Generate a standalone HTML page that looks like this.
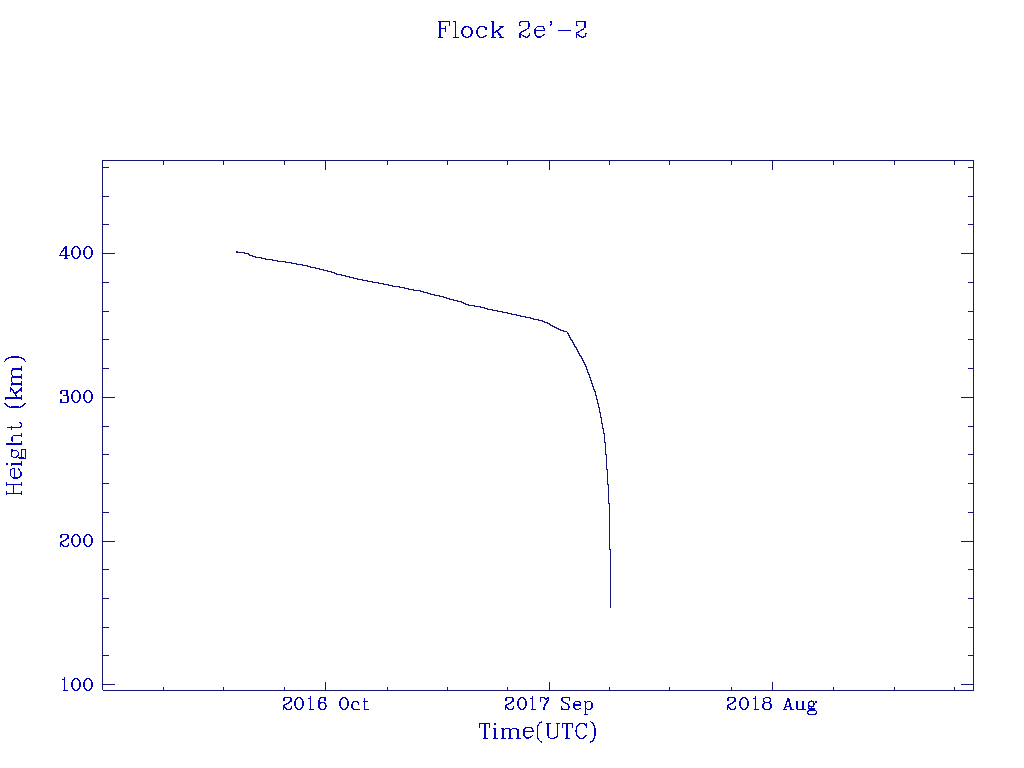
<!DOCTYPE html>
<html lang="en"><head><meta charset="utf-8"><title>Flock 2e'-2 Height (km) vs Time(UTC)</title><style>
html,body{margin:0;padding:0;background:#fff;width:1024px;height:768px;overflow:hidden}
svg{display:block}
.tl text{font-family:"Liberation Serif",serif;fill:transparent;stroke:none}
</style></head><body>
<svg width="1024" height="768" viewBox="0 0 1024 768">
<rect width="1024" height="768" fill="#fff"/>
<path d="M102.5 160V690M102 160.5H974M973.5 160V691M103 690.5H974M102 253.5H115M961 253.5H974M102 397.5H115M961 397.5H974M102 541.5H115M961 541.5H974M102 684.5H115M961 684.5H974M102 167.5H109M968 167.5H974M102 196.5H109M968 196.5H974M102 224.5H109M968 224.5H974M102 282.5H109M968 282.5H974M102 311.5H109M968 311.5H974M102 339.5H109M968 339.5H974M102 368.5H109M968 368.5H974M102 426.5H109M968 426.5H974M102 454.5H109M968 454.5H974M102 483.5H109M968 483.5H974M102 512.5H109M968 512.5H974M102 569.5H109M968 569.5H974M102 598.5H109M968 598.5H974M102 627.5H109M968 627.5H974M102 655.5H109M968 655.5H974M325.5 682V691M325.5 160V170M549.5 682V691M549.5 160V170M772.5 682V691M772.5 160V170M163.5 687V691M163.5 160V165M223.5 687V691M223.5 160V165M284.5 687V691M284.5 160V165M387.5 687V691M387.5 160V165M447.5 687V691M447.5 160V165M507.5 687V691M507.5 160V165M609.5 687V691M609.5 160V165M669.5 687V691M669.5 160V165M731.5 687V691M731.5 160V165M833.5 687V691M833.5 160V165M894.5 687V691M894.5 160V165M954.5 687V691M954.5 160V165" stroke="#151576" stroke-width="1" fill="none" shape-rendering="crispEdges"/>
<path d="M236 251h2v2h-2zM236 252h9v1h-9zM244 253h5v1h-5zM248 254h2v1h-2zM249 255h4v1h-4zM252 256h4v1h-4zM255 257h7v1h-7zM261 258h5v1h-5zM265 259h8v1h-8zM272 260h6v1h-6zM277 261h9v1h-9zM285 262h7v1h-7zM291 263h6v1h-6zM296 264h7v1h-7zM302 265h6v1h-6zM307 266h4v1h-4zM310 267h6v1h-6zM315 268h5v1h-5zM319 269h5v1h-5zM323 270h5v1h-5zM327 271h5v1h-5zM331 272h4v1h-4zM334 273h3v1h-3zM336 274h6v1h-6zM341 275h5v1h-5zM345 276h5v1h-5zM349 277h5v1h-5zM353 278h5v1h-5zM357 279h6v1h-6zM362 280h6v1h-6zM367 281h6v1h-6zM372 282h7v1h-7zM378 283h6v1h-6zM383 284h6v1h-6zM388 285h5v1h-5zM392 286h8v1h-8zM399 287h6v1h-6zM404 288h5v1h-5zM408 289h6v1h-6zM413 290h8v1h-8zM420 291h4v1h-4zM423 292h5v1h-5zM427 293h4v1h-4zM430 294h5v1h-5zM434 295h6v1h-6zM439 296h5v1h-5zM443 297h4v1h-4zM446 298h4v1h-4zM449 299h5v1h-5zM453 300h5v1h-5zM457 301h5v1h-5zM461 302h3v1h-3zM463 303h3v1h-3zM465 304h4v1h-4zM468 305h7v1h-7zM474 306h7v1h-7zM480 307h5v1h-5zM484 308h4v1h-4zM487 309h6v1h-6zM492 310h6v1h-6zM497 311h6v1h-6zM502 312h6v1h-6zM507 313h5v1h-5zM511 314h6v1h-6zM516 315h5v1h-5zM520 316h6v1h-6zM525 317h6v1h-6zM530 318h4v1h-4zM533 319h6v1h-6zM538 320h5v1h-5zM542 321h3v1h-3zM544 322h4v1h-4zM547 323h3v1h-3zM549 324h2v1h-2zM550 325h3v1h-3zM552 326h3v1h-3zM554 327h3v1h-3zM556 328h3v1h-3zM558 329h3v1h-3zM560 330h4v1h-4zM563 331h4v1h-4zM598 404h1v4h-1zM599 407h1v6h-1zM600 412h1v6h-1zM601 417h1v7h-1zM602 423h1v6h-1zM603 428h1v6h-1zM604 433h1v10h-1zM605 442h1v13h-1zM606 454h1v16h-1zM607 469h1v16h-1zM608 484h1v20h-1zM609 503h1v47h-1zM610 549h1v59h-1zM567 332h1v1h-1zM567 333h1v1h-1zM568 333h1v1h-1zM568 334h1v1h-1zM568 335h1v1h-1zM569 335h1v1h-1zM569 336h1v1h-1zM569 337h1v1h-1zM570 337h1v1h-1zM570 338h1v1h-1zM570 339h1v1h-1zM571 339h1v1h-1zM571 340h1v1h-1zM572 340h1v1h-1zM572 341h1v1h-1zM572 342h1v1h-1zM573 342h1v1h-1zM573 343h1v1h-1zM573 344h1v1h-1zM574 344h1v1h-1zM574 345h1v1h-1zM574 346h1v1h-1zM575 346h1v1h-1zM575 347h1v1h-1zM576 347h1v1h-1zM576 348h1v1h-1zM576 349h1v1h-1zM577 349h1v1h-1zM577 350h1v1h-1zM577 351h1v1h-1zM578 351h1v1h-1zM578 352h1v1h-1zM578 353h1v1h-1zM579 353h1v1h-1zM579 354h1v1h-1zM579 355h1v1h-1zM580 355h1v1h-1zM580 356h1v1h-1zM581 356h1v1h-1zM581 357h1v1h-1zM581 358h1v1h-1zM582 358h1v1h-1zM582 359h1v1h-1zM582 360h1v1h-1zM583 360h1v1h-1zM583 361h1v1h-1zM583 362h1v1h-1zM584 362h1v1h-1zM584 363h1v1h-1zM584 364h1v1h-1zM585 364h1v1h-1zM585 365h1v1h-1zM585 366h1v1h-1zM586 366h1v1h-1zM586 367h1v1h-1zM586 368h1v1h-1zM586 369h1v1h-1zM587 369h1v1h-1zM587 370h1v1h-1zM587 371h1v1h-1zM587 372h1v1h-1zM588 372h1v1h-1zM588 373h1v1h-1zM588 374h1v1h-1zM589 374h1v1h-1zM589 375h1v1h-1zM589 376h1v1h-1zM589 377h1v1h-1zM590 377h1v1h-1zM590 378h1v1h-1zM590 379h1v1h-1zM590 380h1v1h-1zM591 380h1v1h-1zM591 381h1v1h-1zM591 382h1v1h-1zM591 383h1v1h-1zM592 383h1v1h-1zM592 384h1v1h-1zM592 385h1v1h-1zM592 386h1v1h-1zM593 386h1v1h-1zM593 387h1v1h-1zM593 388h1v1h-1zM593 389h1v1h-1zM594 389h1v1h-1zM594 390h1v1h-1zM594 391h1v1h-1zM595 391h1v1h-1zM595 392h1v1h-1zM595 393h1v1h-1zM595 394h1v1h-1zM595 395h1v1h-1zM596 395h1v1h-1zM596 396h1v1h-1zM596 397h1v1h-1zM596 398h1v1h-1zM596 399h1v1h-1zM597 399h1v1h-1zM597 400h1v1h-1zM597 401h1v1h-1zM597 402h1v1h-1zM597 403h1v1h-1zM598 403h1v1h-1zM598 404h1v1h-1z" fill="#151576" shape-rendering="crispEdges"/>
<g fill="none" stroke="#0000be" stroke-linecap="butt" stroke-linejoin="round" shape-rendering="crispEdges" aria-hidden="true">
<path transform="translate(438,38)" d="M0,-16.5H12" stroke-width="1.1"/>
<path transform="translate(438,38)" d="M2,-17V0" stroke-width="2.0"/>
<path transform="translate(438,38)" d="M11.5,-17V-12" stroke-width="1.1"/>
<path transform="translate(438,38)" d="M3,-9.5H8" stroke-width="1.1"/>
<path transform="translate(438,38)" d="M7.5,-12V-6" stroke-width="1.1"/>
<path transform="translate(438,38)" d="M0,-0.5H5" stroke-width="1.1"/>
<path transform="translate(453,38)" d="M0,-16.5H3" stroke-width="1.1"/>
<path transform="translate(453,38)" d="M2.3,-17V0" stroke-width="1.5"/>
<path transform="translate(453,38)" d="M0,-0.5H6" stroke-width="1.1"/>
<path transform="translate(461,38)" d="M0.7000000000000002,-6A5.3,5.5 0 1,0 11.3,-6A5.3,5.5 0 1,0 0.7000000000000002,-6Z" stroke-width="1.2"/>
<path transform="translate(461,38)" d="M1.5999999999999996,-6A4.4,5.3 0 1,0 10.4,-6A4.4,5.3 0 1,0 1.5999999999999996,-6Z" stroke-width="1.0"/>
<path transform="translate(476,38)" d="M10,-10C9,-11.3 7.5,-11.8 6,-11.8C2.8,-11.8 0.8,-9 0.8,-6C0.8,-2.8 3,-0.5 6,-0.5C7.8,-0.5 9.3,-1.4 10.3,-3" stroke-width="1.2"/>
<path transform="translate(476,38)" d="M1.7,-8.5V-3.5" stroke-width="1.0"/>
<path transform="translate(476,38)" d="M9.6,-11V-8.5" stroke-width="2.0"/>
<path transform="translate(491,38)" d="M2,-17V0" stroke-width="2.0"/>
<path transform="translate(491,38)" d="M0,-16.5H3" stroke-width="1.1"/>
<path transform="translate(491,38)" d="M0,-0.5H5" stroke-width="1.1"/>
<path transform="translate(491,38)" d="M12,-11.5L3,-5" stroke-width="1.4"/>
<path transform="translate(491,38)" d="M8,-11.5H13" stroke-width="1.1"/>
<path transform="translate(491,38)" d="M5.5,-7.5L10.5,-0.7" stroke-width="1.8"/>
<path transform="translate(491,38)" d="M8,-0.5H13" stroke-width="1.1"/>
<path transform="translate(519,38)" d="M0.7,-12.5V-14.5C0.7,-15.8 1.4,-16.5 2.7,-16.5H8.5C9.5,-16.5 10,-15.8 10,-15V-11C10,-10.2 9.6,-9.9 9,-9.5L1,-5V-0.5M1,-4C3,-4 4,-0.8 7,-0.8C9,-0.8 10.5,-2 10.5,-4.8" stroke-width="1.2"/>
<path transform="translate(519,38)" d="M9.2,-16V-10.5" stroke-width="1.0"/>
<path transform="translate(519,38)" d="M1.2,-13V-12" stroke-width="1.6"/>
<path transform="translate(534,38)" d="M1,-7.5H10.5V-9L9,-11.5H3.5L1,-9V-4L3.5,-1H6.5L10.5,-3.7" stroke-width="1.2"/>
<path transform="translate(534,38)" d="M1.6,-9V-4" stroke-width="1.0"/>
<path transform="translate(549,38)" d="M1,-16.2H2.6V-14.2L0.8,-12.5" stroke-width="1.6"/>
<path transform="translate(558,38)" d="M0,-7.5H13" stroke-width="1.1"/>
<path transform="translate(575.5,38)" d="M0.7,-12.5V-14.5C0.7,-15.8 1.4,-16.5 2.7,-16.5H8.5C9.5,-16.5 10,-15.8 10,-15V-11C10,-10.2 9.6,-9.9 9,-9.5L1,-5V-0.5M1,-4C3,-4 4,-0.8 7,-0.8C9,-0.8 10.5,-2 10.5,-4.8" stroke-width="1.2"/>
<path transform="translate(575.5,38)" d="M9.2,-16V-10.5" stroke-width="1.0"/>
<path transform="translate(575.5,38)" d="M1.2,-13V-12" stroke-width="1.6"/>
<path transform="translate(479,739)" d="M0,-15.5H11" stroke-width="1.1"/>
<path transform="translate(479,739)" d="M0.5,-16V-11" stroke-width="1.1"/>
<path transform="translate(479,739)" d="M10.5,-16V-11" stroke-width="1.1"/>
<path transform="translate(479,739)" d="M6,-16V0" stroke-width="2.0"/>
<path transform="translate(479,739)" d="M4,-0.5H9" stroke-width="1.1"/>
<path transform="translate(493,739)" d="M1,-15H3" stroke-width="2.0"/>
<path transform="translate(493,739)" d="M2,-11V0" stroke-width="2.0"/>
<path transform="translate(493,739)" d="M0,-10.5H3" stroke-width="1.1"/>
<path transform="translate(493,739)" d="M0,-0.5H5" stroke-width="1.1"/>
<path transform="translate(501,739)" d="M2,-11V0" stroke-width="2.0"/>
<path transform="translate(501,739)" d="M0,-10.5H3" stroke-width="1.1"/>
<path transform="translate(501,739)" d="M3,-9L4.5,-10.5H8L9,-9.5" stroke-width="1.1"/>
<path transform="translate(501,739)" d="M9,-10V0" stroke-width="2.0"/>
<path transform="translate(501,739)" d="M10,-9L11.5,-10.5H15L16,-9.5" stroke-width="1.1"/>
<path transform="translate(501,739)" d="M17,-10V0" stroke-width="2.0"/>
<path transform="translate(501,739)" d="M0,-0.5H5" stroke-width="1.1"/>
<path transform="translate(501,739)" d="M7,-0.5H12" stroke-width="1.1"/>
<path transform="translate(501,739)" d="M15,-0.5H20" stroke-width="1.1"/>
<path transform="translate(522.5,739)" d="M1,-7.5H10.5V-9L9,-11.5H3.5L1,-9V-4L3.5,-1H6.5L10.5,-3.7" stroke-width="1.2"/>
<path transform="translate(522.5,739)" d="M1.6,-9V-4" stroke-width="1.0"/>
<path transform="translate(536.3,739)" d="M5.8,-17.5C3,-16 1,-13.5 1,-10V-4C1,-0.5 3,2 5.8,3.5" stroke-width="1.3"/>
<path transform="translate(536.3,739)" d="M1.6,-11V-3" stroke-width="1.0"/>
<path transform="translate(546,739)" d="M0,-15.5H5" stroke-width="1.1"/>
<path transform="translate(546,739)" d="M2,-16V-4" stroke-width="2.0"/>
<path transform="translate(546,739)" d="M2,-4C2,-1.5 4,-0.5 6.5,-0.5C9,-0.5 11.5,-2 11.5,-4" stroke-width="1.2"/>
<path transform="translate(546,739)" d="M11.5,-16V-4" stroke-width="1.2"/>
<path transform="translate(546,739)" d="M10,-15.5H14" stroke-width="1.1"/>
<path transform="translate(562,739)" d="M0,-15.5H11" stroke-width="1.1"/>
<path transform="translate(562,739)" d="M0.5,-16V-11" stroke-width="1.1"/>
<path transform="translate(562,739)" d="M10.5,-16V-11" stroke-width="1.1"/>
<path transform="translate(562,739)" d="M5,-16V0" stroke-width="2.0"/>
<path transform="translate(562,739)" d="M3,-0.5H8" stroke-width="1.1"/>
<path transform="translate(575,739)" d="M11.3,-13.3C10,-15 8.5,-15.5 6.8,-15.5C3,-15.5 1,-12 1,-8C1,-4 3,-0.5 6.5,-0.5C8.5,-0.5 10.3,-1.7 11.5,-4" stroke-width="1.2"/>
<path transform="translate(575,739)" d="M1.9,-11V-5" stroke-width="1.0"/>
<path transform="translate(575,739)" d="M11.5,-16V-11.5" stroke-width="1.5"/>
<path transform="translate(590,739)" d="M0.2,-17.5C3,-16 5,-13.5 5,-10V-4C5,-0.5 3,2 0.2,3.5" stroke-width="1.3"/>
<path transform="translate(590,739)" d="M4.4,-11V-3" stroke-width="1.0"/>
<path transform="translate(22,495) rotate(-90)" d="M1.5,-16V0" stroke-width="1.4"/>
<path transform="translate(22,495) rotate(-90)" d="M10.5,-16V0" stroke-width="1.4"/>
<path transform="translate(22,495) rotate(-90)" d="M1.5,-8.5H10.5" stroke-width="1.1"/>
<path transform="translate(22,495) rotate(-90)" d="M0,-15.5H4" stroke-width="1.1"/>
<path transform="translate(22,495) rotate(-90)" d="M9,-15.5H13" stroke-width="1.1"/>
<path transform="translate(22,495) rotate(-90)" d="M0,-0.5H4" stroke-width="1.1"/>
<path transform="translate(22,495) rotate(-90)" d="M9,-0.5H13" stroke-width="1.1"/>
<path transform="translate(22,479) rotate(-90)" d="M1,-7.5H10.5V-9L9,-11.5H3.5L1,-9V-4L3.5,-1H6.5L10.5,-3.7" stroke-width="1.2"/>
<path transform="translate(22,479) rotate(-90)" d="M1.6,-9V-4" stroke-width="1.0"/>
<path transform="translate(22,466) rotate(-90)" d="M1,-15H3" stroke-width="2.0"/>
<path transform="translate(22,466) rotate(-90)" d="M2,-11V0" stroke-width="2.0"/>
<path transform="translate(22,466) rotate(-90)" d="M0,-10.5H3" stroke-width="1.1"/>
<path transform="translate(22,466) rotate(-90)" d="M0,-0.5H5" stroke-width="1.1"/>
<path transform="translate(22,459) rotate(-90)" d="M1.4,-7.2A3.6,3.7 0 1,0 8.6,-7.2A3.6,3.7 0 1,0 1.4,-7.2Z" stroke-width="1.2"/>
<path transform="translate(22,459) rotate(-90)" d="M9.3,-10.6V-9.4" stroke-width="1.6"/>
<path transform="translate(22,459) rotate(-90)" d="M1.8,-3.8L1,-2.5V-1" stroke-width="1.2"/>
<path transform="translate(22,459) rotate(-90)" d="M0.8,-0.5H9.8V3.5H0.8Z" stroke-width="1.1"/>
<path transform="translate(22,459) rotate(-90)" d="M1.3,-0.5V1.5" stroke-width="1.0"/>
<path transform="translate(22,445) rotate(-90)" d="M1.5,-16V0" stroke-width="2.0"/>
<path transform="translate(22,445) rotate(-90)" d="M0,-15.5H2.5" stroke-width="1.1"/>
<path transform="translate(22,445) rotate(-90)" d="M2.5,-8.5L4,-10H8L9.5,-8.5" stroke-width="1.1"/>
<path transform="translate(22,445) rotate(-90)" d="M9.5,-9V0" stroke-width="1.3"/>
<path transform="translate(22,445) rotate(-90)" d="M0,-0.5H4" stroke-width="1.1"/>
<path transform="translate(22,445) rotate(-90)" d="M8,-0.5H12" stroke-width="1.1"/>
<path transform="translate(22,430.5) rotate(-90)" d="M3,-15V-3C3,-1 4,-0.5 5.5,-0.5C7,-0.5 8,-1.5 8.5,-2.5" stroke-width="1.3"/>
<path transform="translate(22,430.5) rotate(-90)" d="M0.5,-10.5H5" stroke-width="1.1"/>
<path transform="translate(22,408.5) rotate(-90)" d="M5.8,-17.5C3,-16 1,-13.5 1,-10V-4C1,-0.5 3,2 5.8,3.5" stroke-width="1.3"/>
<path transform="translate(22,408.5) rotate(-90)" d="M1.6,-11V-3" stroke-width="1.0"/>
<path transform="translate(22,399.5) rotate(-90)" d="M2,-17V0" stroke-width="2.0"/>
<path transform="translate(22,399.5) rotate(-90)" d="M0,-16.5H3" stroke-width="1.1"/>
<path transform="translate(22,399.5) rotate(-90)" d="M0,-0.5H5" stroke-width="1.1"/>
<path transform="translate(22,399.5) rotate(-90)" d="M12,-11.5L3,-5" stroke-width="1.4"/>
<path transform="translate(22,399.5) rotate(-90)" d="M8,-11.5H13" stroke-width="1.1"/>
<path transform="translate(22,399.5) rotate(-90)" d="M5.5,-7.5L10.5,-0.7" stroke-width="1.8"/>
<path transform="translate(22,399.5) rotate(-90)" d="M8,-0.5H13" stroke-width="1.1"/>
<path transform="translate(22,386) rotate(-90)" d="M2,-11V0" stroke-width="2.0"/>
<path transform="translate(22,386) rotate(-90)" d="M0,-10.5H3" stroke-width="1.1"/>
<path transform="translate(22,386) rotate(-90)" d="M3,-9L4.5,-10.5H8L9,-9.5" stroke-width="1.1"/>
<path transform="translate(22,386) rotate(-90)" d="M9,-10V0" stroke-width="2.0"/>
<path transform="translate(22,386) rotate(-90)" d="M10,-9L11.5,-10.5H15L16,-9.5" stroke-width="1.1"/>
<path transform="translate(22,386) rotate(-90)" d="M17,-10V0" stroke-width="2.0"/>
<path transform="translate(22,386) rotate(-90)" d="M0,-0.5H5" stroke-width="1.1"/>
<path transform="translate(22,386) rotate(-90)" d="M7,-0.5H12" stroke-width="1.1"/>
<path transform="translate(22,386) rotate(-90)" d="M15,-0.5H20" stroke-width="1.1"/>
<path transform="translate(22,362) rotate(-90)" d="M0.2,-17.5C3,-16 5,-13.5 5,-10V-4C5,-0.5 3,2 0.2,3.5" stroke-width="1.3"/>
<path transform="translate(22,362) rotate(-90)" d="M4.4,-11V-3" stroke-width="1.0"/>
<path transform="translate(59,259)" d="M7,-13V0" stroke-width="2.0"/>
<path transform="translate(59,259)" d="M6.5,-12.5L1,-4.5" stroke-width="1.3"/>
<path transform="translate(59,259)" d="M0,-3.5H11" stroke-width="1.1"/>
<path transform="translate(59,259)" d="M5,-0.5H9" stroke-width="1.1"/>
<path transform="translate(71,259)" d="M0.7999999999999998,-6.5A4.2,6.0 0 1,0 9.2,-6.5A4.2,6.0 0 1,0 0.7999999999999998,-6.5Z" stroke-width="1.2"/>
<path transform="translate(71,259)" d="M1.4,-9V-4" stroke-width="1.0"/>
<path transform="translate(71,259)" d="M8.6,-9V-4" stroke-width="1.0"/>
<path transform="translate(83,259)" d="M0.7999999999999998,-6.5A4.2,6.0 0 1,0 9.2,-6.5A4.2,6.0 0 1,0 0.7999999999999998,-6.5Z" stroke-width="1.2"/>
<path transform="translate(83,259)" d="M1.4,-9V-4" stroke-width="1.0"/>
<path transform="translate(83,259)" d="M8.6,-9V-4" stroke-width="1.0"/>
<path transform="translate(60,403)" d="M1,-12.5H7.5" stroke-width="1.1"/>
<path transform="translate(60,403)" d="M1,-12V-9.5" stroke-width="1.6"/>
<path transform="translate(60,403)" d="M7,-12V-8" stroke-width="1.6"/>
<path transform="translate(60,403)" d="M3,-7.5H7.5" stroke-width="1.1"/>
<path transform="translate(60,403)" d="M8,-7V-1.5" stroke-width="1.6"/>
<path transform="translate(60,403)" d="M1,-0.5H7.5" stroke-width="1.1"/>
<path transform="translate(60,403)" d="M1,-4V-0.5" stroke-width="1.6"/>
<path transform="translate(71,403)" d="M0.7999999999999998,-6.5A4.2,6.0 0 1,0 9.2,-6.5A4.2,6.0 0 1,0 0.7999999999999998,-6.5Z" stroke-width="1.2"/>
<path transform="translate(71,403)" d="M1.4,-9V-4" stroke-width="1.0"/>
<path transform="translate(71,403)" d="M8.6,-9V-4" stroke-width="1.0"/>
<path transform="translate(83,403)" d="M0.7999999999999998,-6.5A4.2,6.0 0 1,0 9.2,-6.5A4.2,6.0 0 1,0 0.7999999999999998,-6.5Z" stroke-width="1.2"/>
<path transform="translate(83,403)" d="M1.4,-9V-4" stroke-width="1.0"/>
<path transform="translate(83,403)" d="M8.6,-9V-4" stroke-width="1.0"/>
<path transform="translate(60,547)" d="M1,-12V-9.5" stroke-width="1.6"/>
<path transform="translate(60,547)" d="M1,-12.5H7.5" stroke-width="1.1"/>
<path transform="translate(60,547)" d="M8,-12V-8" stroke-width="1.6"/>
<path transform="translate(60,547)" d="M7,-8L1,-4.5" stroke-width="1.4"/>
<path transform="translate(60,547)" d="M0.7,-5V0" stroke-width="1.2"/>
<path transform="translate(60,547)" d="M1,-3.3C2.5,-3.3 3,-0.5 5,-0.5H7C8,-0.5 8.5,-1.5 8.5,-4" stroke-width="1.3"/>
<path transform="translate(71,547)" d="M0.7999999999999998,-6.5A4.2,6.0 0 1,0 9.2,-6.5A4.2,6.0 0 1,0 0.7999999999999998,-6.5Z" stroke-width="1.2"/>
<path transform="translate(71,547)" d="M1.4,-9V-4" stroke-width="1.0"/>
<path transform="translate(71,547)" d="M8.6,-9V-4" stroke-width="1.0"/>
<path transform="translate(83,547)" d="M0.7999999999999998,-6.5A4.2,6.0 0 1,0 9.2,-6.5A4.2,6.0 0 1,0 0.7999999999999998,-6.5Z" stroke-width="1.2"/>
<path transform="translate(83,547)" d="M1.4,-9V-4" stroke-width="1.0"/>
<path transform="translate(83,547)" d="M8.6,-9V-4" stroke-width="1.0"/>
<path transform="translate(62,691)" d="M2.5,-14V0" stroke-width="1.2"/>
<path transform="translate(62,691)" d="M0,-11.5H2.5" stroke-width="1.1"/>
<path transform="translate(62,691)" d="M1,-0.5H6" stroke-width="1.1"/>
<path transform="translate(71,691)" d="M0.7999999999999998,-6.5A4.2,6.0 0 1,0 9.2,-6.5A4.2,6.0 0 1,0 0.7999999999999998,-6.5Z" stroke-width="1.2"/>
<path transform="translate(71,691)" d="M1.4,-9V-4" stroke-width="1.0"/>
<path transform="translate(71,691)" d="M8.6,-9V-4" stroke-width="1.0"/>
<path transform="translate(83,691)" d="M0.7999999999999998,-6.5A4.2,6.0 0 1,0 9.2,-6.5A4.2,6.0 0 1,0 0.7999999999999998,-6.5Z" stroke-width="1.2"/>
<path transform="translate(83,691)" d="M1.4,-9V-4" stroke-width="1.0"/>
<path transform="translate(83,691)" d="M8.6,-9V-4" stroke-width="1.0"/>
<path transform="translate(283,710)" d="M1,-12V-9.5" stroke-width="1.6"/>
<path transform="translate(283,710)" d="M1,-12.5H7.5" stroke-width="1.1"/>
<path transform="translate(283,710)" d="M8,-12V-8" stroke-width="1.6"/>
<path transform="translate(283,710)" d="M7,-8L1,-4.5" stroke-width="1.4"/>
<path transform="translate(283,710)" d="M0.7,-5V0" stroke-width="1.2"/>
<path transform="translate(283,710)" d="M1,-3.3C2.5,-3.3 3,-0.5 5,-0.5H7C8,-0.5 8.5,-1.5 8.5,-4" stroke-width="1.3"/>
<path transform="translate(294,710)" d="M0.7999999999999998,-6.5A4.2,6.0 0 1,0 9.2,-6.5A4.2,6.0 0 1,0 0.7999999999999998,-6.5Z" stroke-width="1.2"/>
<path transform="translate(294,710)" d="M1.4,-9V-4" stroke-width="1.0"/>
<path transform="translate(294,710)" d="M8.6,-9V-4" stroke-width="1.0"/>
<path transform="translate(308,710)" d="M2.5,-14V0" stroke-width="1.2"/>
<path transform="translate(308,710)" d="M0,-11.5H2.5" stroke-width="1.1"/>
<path transform="translate(308,710)" d="M1,-0.5H6" stroke-width="1.1"/>
<path transform="translate(318,710)" d="M1,-10V-2" stroke-width="1.6"/>
<path transform="translate(318,710)" d="M1,-10L3,-12.5H6.5" stroke-width="1.2"/>
<path transform="translate(318,710)" d="M6.8,-13V-9.5" stroke-width="1.6"/>
<path transform="translate(318,710)" d="M1.0,-4A3.5,3.5 0 1,0 8.0,-4A3.5,3.5 0 1,0 1.0,-4Z" stroke-width="1.3"/>
<path transform="translate(318,710)" d="M7.9,-6V-2.5" stroke-width="1.0"/>
<path transform="translate(339,710)" d="M0.7999999999999998,-6.5A4.2,6.0 0 1,0 9.2,-6.5A4.2,6.0 0 1,0 0.7999999999999998,-6.5Z" stroke-width="1.2"/>
<path transform="translate(339,710)" d="M1.4,-9V-4" stroke-width="1.0"/>
<path transform="translate(339,710)" d="M8.6,-9V-4" stroke-width="1.0"/>
<path transform="translate(351,710)" d="M7.5,-7C7,-8.3 5.8,-8.7 4.5,-8.7C2.3,-8.7 0.8,-6.5 0.8,-4.5C0.8,-2 2.5,-0.5 4.5,-0.5H8.5" stroke-width="1.2"/>
<path transform="translate(351,710)" d="M7.5,-7.5V-5.5" stroke-width="1.6"/>
<path transform="translate(351,710)" d="M1.5,-6V-3" stroke-width="1.0"/>
<path transform="translate(363,710)" d="M1.5,-12V-0.5H5.5V-1.5" stroke-width="1.2"/>
<path transform="translate(363,710)" d="M0,-8.5H5" stroke-width="1.1"/>
<path transform="translate(505,710)" d="M1,-12V-9.5" stroke-width="1.6"/>
<path transform="translate(505,710)" d="M1,-12.5H7.5" stroke-width="1.1"/>
<path transform="translate(505,710)" d="M8,-12V-8" stroke-width="1.6"/>
<path transform="translate(505,710)" d="M7,-8L1,-4.5" stroke-width="1.4"/>
<path transform="translate(505,710)" d="M0.7,-5V0" stroke-width="1.2"/>
<path transform="translate(505,710)" d="M1,-3.3C2.5,-3.3 3,-0.5 5,-0.5H7C8,-0.5 8.5,-1.5 8.5,-4" stroke-width="1.3"/>
<path transform="translate(517,710)" d="M0.7999999999999998,-6.5A4.2,6.0 0 1,0 9.2,-6.5A4.2,6.0 0 1,0 0.7999999999999998,-6.5Z" stroke-width="1.2"/>
<path transform="translate(517,710)" d="M1.4,-9V-4" stroke-width="1.0"/>
<path transform="translate(517,710)" d="M8.6,-9V-4" stroke-width="1.0"/>
<path transform="translate(530,710)" d="M2.5,-14V0" stroke-width="1.2"/>
<path transform="translate(530,710)" d="M0,-11.5H2.5" stroke-width="1.1"/>
<path transform="translate(530,710)" d="M1,-0.5H6" stroke-width="1.1"/>
<path transform="translate(540,710)" d="M0.8,-8.5V-12" stroke-width="1.2"/>
<path transform="translate(540,710)" d="M0.8,-12L2,-12.8H3.5L5.5,-11H7L8.5,-13" stroke-width="1.3"/>
<path transform="translate(540,710)" d="M8.5,-13V-10L5,-5.5L4.2,-3V0" stroke-width="1.6"/>
<path transform="translate(561,710)" d="M8.5,-13V-9" stroke-width="1.3"/>
<path transform="translate(561,710)" d="M8.5,-12.5L7,-12.5H2L1,-11.5V-9.5L2,-8.3L7,-5.5L8,-4V-2L7,-0.5H2L0.5,-1.5" stroke-width="1.3"/>
<path transform="translate(561,710)" d="M0.5,-4V-0.5" stroke-width="1.3"/>
<path transform="translate(573,710)" d="M0.8,-5H7.5V-6.5L6.5,-8.5H2.5L0.8,-6.5V-3L2.5,-0.8H5.5L7.8,-1.8" stroke-width="1.2"/>
<path transform="translate(573,710)" d="M1.5,-6.5V-2.5" stroke-width="1.0"/>
<path transform="translate(584,710)" d="M1.5,-9V5" stroke-width="1.3"/>
<path transform="translate(584,710)" d="M0,-8.5H2" stroke-width="1.1"/>
<path transform="translate(584,710)" d="M2,-7C2.5,-8 3.5,-8.6 5,-8.6C7.2,-8.6 8.3,-6.5 8.3,-4.5C8.3,-2.2 7,-0.5 5,-0.5C3.5,-0.5 2.5,-1.2 2,-2" stroke-width="1.2"/>
<path transform="translate(584,710)" d="M7.6,-6.5V-2.5" stroke-width="1.0"/>
<path transform="translate(584,710)" d="M0,4.5H4" stroke-width="1.1"/>
<path transform="translate(727,710)" d="M1,-12V-9.5" stroke-width="1.6"/>
<path transform="translate(727,710)" d="M1,-12.5H7.5" stroke-width="1.1"/>
<path transform="translate(727,710)" d="M8,-12V-8" stroke-width="1.6"/>
<path transform="translate(727,710)" d="M7,-8L1,-4.5" stroke-width="1.4"/>
<path transform="translate(727,710)" d="M0.7,-5V0" stroke-width="1.2"/>
<path transform="translate(727,710)" d="M1,-3.3C2.5,-3.3 3,-0.5 5,-0.5H7C8,-0.5 8.5,-1.5 8.5,-4" stroke-width="1.3"/>
<path transform="translate(739,710)" d="M0.7999999999999998,-6.5A4.2,6.0 0 1,0 9.2,-6.5A4.2,6.0 0 1,0 0.7999999999999998,-6.5Z" stroke-width="1.2"/>
<path transform="translate(739,710)" d="M1.4,-9V-4" stroke-width="1.0"/>
<path transform="translate(739,710)" d="M8.6,-9V-4" stroke-width="1.0"/>
<path transform="translate(753,710)" d="M2.5,-14V0" stroke-width="1.2"/>
<path transform="translate(753,710)" d="M0,-11.5H2.5" stroke-width="1.1"/>
<path transform="translate(753,710)" d="M1,-0.5H6" stroke-width="1.1"/>
<path transform="translate(762,710)" d="M1.5,-10A3.5,2.5 0 1,0 8.5,-10A3.5,2.5 0 1,0 1.5,-10Z" stroke-width="1.3"/>
<path transform="translate(762,710)" d="M1.6,-11V-9" stroke-width="1.0"/>
<path transform="translate(762,710)" d="M8.4,-11V-9" stroke-width="1.0"/>
<path transform="translate(762,710)" d="M0.5,-4A4.5,3.5 0 1,0 9.5,-4A4.5,3.5 0 1,0 0.5,-4Z" stroke-width="1.3"/>
<path transform="translate(762,710)" d="M1.1,-5.5V-2.5" stroke-width="1.0"/>
<path transform="translate(762,710)" d="M8.9,-5.5V-2.5" stroke-width="1.0"/>
<path transform="translate(783,710)" d="M5,-11.5L1.8,-2L1.5,-0.5" stroke-width="1.1"/>
<path transform="translate(783,710)" d="M5.5,-11.5L8.3,-0.5" stroke-width="1.8"/>
<path transform="translate(783,710)" d="M2.5,-3.8H8" stroke-width="1.1"/>
<path transform="translate(783,710)" d="M0,-0.5H4" stroke-width="1.1"/>
<path transform="translate(783,710)" d="M6.5,-0.5H11" stroke-width="1.1"/>
<path transform="translate(796,710)" d="M1.2,-9V-1.5L2.2,-0.5H7" stroke-width="1.6"/>
<path transform="translate(796,710)" d="M7,-9V-0.5H10" stroke-width="1.2"/>
<path transform="translate(796,710)" d="M0,-8.5H1.5" stroke-width="1.1"/>
<path transform="translate(807,710)" d="M1.5,-6A2.8,3 0 1,0 7.1,-6A2.8,3 0 1,0 1.5,-6Z" stroke-width="1.2"/>
<path transform="translate(807,710)" d="M7.5,-8H9.5" stroke-width="1.4"/>
<path transform="translate(807,710)" d="M2,-3.5L1.5,-2L2.5,-1H8" stroke-width="1.3"/>
<path transform="translate(807,710)" d="M0.5,2.3A4.5,2.3 0 1,0 9.5,2.3A4.5,2.3 0 1,0 0.5,2.3Z" stroke-width="1.3"/>
</g>
<g class="tl">
<text x="437" y="37.5" font-size="25" textLength="150" lengthAdjust="spacingAndGlyphs">Flock 2e&#8217;&#8722;2</text>
<text x="59" y="259" font-size="19" textLength="33" lengthAdjust="spacingAndGlyphs">400</text>
<text x="60" y="403" font-size="19" textLength="32" lengthAdjust="spacingAndGlyphs">300</text>
<text x="60" y="547" font-size="19" textLength="32" lengthAdjust="spacingAndGlyphs">200</text>
<text x="62" y="691" font-size="19" textLength="30" lengthAdjust="spacingAndGlyphs">100</text>
<text x="283" y="710" font-size="19" textLength="86" lengthAdjust="spacingAndGlyphs">2016 Oct</text>
<text x="505" y="710" font-size="19" textLength="88" lengthAdjust="spacingAndGlyphs">2017 Sep</text>
<text x="727" y="710" font-size="19" textLength="90" lengthAdjust="spacingAndGlyphs">2018 Aug</text>
<text x="479" y="739" font-size="24" textLength="117" lengthAdjust="spacingAndGlyphs">Time(UTC)</text>
<text x="0" y="0" font-size="24" textLength="139" lengthAdjust="spacingAndGlyphs" transform="translate(22,495) rotate(-90)">Height (km)</text>
</g>
</svg>
</body></html>
